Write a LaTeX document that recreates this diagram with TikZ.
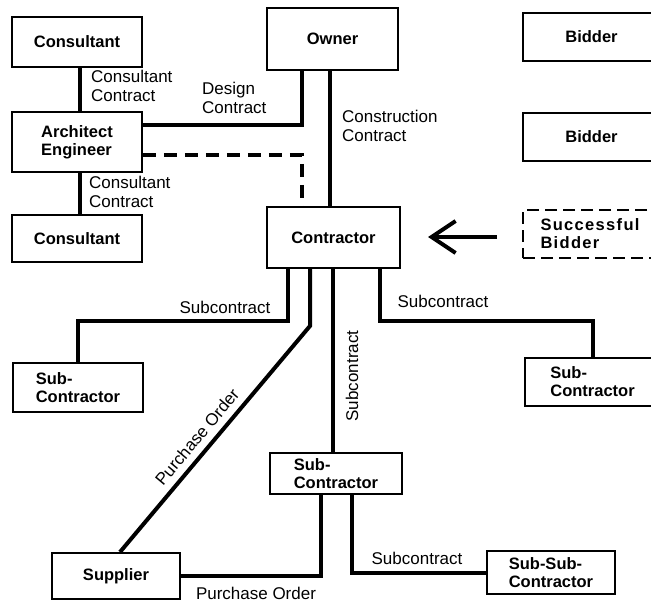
\documentclass[tikz,border=0pt]{standalone}
\usepackage{fontspec}
\setmainfont{Liberation Sans}
\usetikzlibrary{arrows.meta}
\begin{document}
\begin{tikzpicture}[x=1pt,y=-1pt,
  box/.style={draw, line width=1.9pt, rectangle, align=left, inner sep=0pt,
    font=\fontsize{16.5}{18}\selectfont\bfseries},
  dbox/.style={box, dash pattern=on 12pt off 6pt},
  link/.style={line width=4pt, line join=miter},
  dlink/.style={line width=3.5pt, line join=miter, dash pattern=on 13pt off 8pt},
  lbl/.style={font=\fontsize{17}{19}\selectfont, align=left, inner sep=0pt},
]
\useasboundingbox (0,0) rectangle (651,605);
\clip (0,0) rectangle (651,605);

% parties
\node[box, minimum width=130pt, minimum height=50pt] (cons1) at (77,42) {Consultant};
\node[box, minimum width=130pt, minimum height=60pt] (ae) at (77,142) {Architect\\Engineer};
\node[box, minimum width=130pt, minimum height=47pt] (cons2) at (77,238.5) {Consultant};
\node[box, minimum width=131pt, minimum height=62pt] (owner) at (332.5,39) {Owner};
\node[box, minimum width=133pt, minimum height=61pt] (contr) at (333.5,237.5) {Contractor};
\node[box, minimum width=137pt, minimum height=48pt] (bid1) at (591.5,37) {Bidder};
\node[box, minimum width=137pt, minimum height=48pt] (bid2) at (591.5,137) {Bidder};
\node[dbox, minimum width=137pt, minimum height=48pt, text width=102pt,
  font=\fontsize{16.5}{18}\selectfont\bfseries\addfontfeature{LetterSpace=8}]
  (succ) at (591.5,234) {Successful\\Bidder};
\node[box, minimum width=130pt, minimum height=49pt] (subL) at (78,387.5) {Sub-\\Contractor};
\node[box, minimum width=132pt, minimum height=41pt] (subM) at (336,473.5) {Sub-\\Contractor};
\node[box, minimum width=135pt, minimum height=48pt] (subR) at (592.5,382) {Sub-\\Contractor};
\node[box, minimum width=128pt, minimum height=46pt] (supp) at (116,576) {Supplier};
\node[box, minimum width=128pt, minimum height=43pt] (subsub) at (551,572.5) {Sub-Sub-\\Contractor};

% contracts around the owner and the design team
\draw[link] ([xshift=3pt]cons1.south) -- ([xshift=3pt]ae.north);
\draw[link] ([xshift=3pt]ae.south) -- ([xshift=3pt]cons2.north);
\draw[link] ([xshift=-30.5pt]owner.south) |- ([yshift=17pt]ae.east);
\coordinate (cc) at ([xshift=-2.5pt]owner.south);
\draw[link] (cc) -- (cc |- contr.north);
\draw[dlink] ([yshift=-13pt]ae.east) -| ([xshift=-31.5pt]contr.north);

% award to the successful bidder
\coordinate (awS) at (497,237);
\coordinate (awE) at (428,237);
\draw[line width=4pt, -{Straight Barb[length=24pt,width=32pt]}] (awS) -- (awE);

% contractor's subcontracts and orders
\draw[link] ([xshift=-45.5pt]contr.south) |- ([yshift=41pt]subL.north) -- (subL.north);
\draw[link] ([xshift=-23.5pt]contr.south) -- ++(0,57) -- ([xshift=4pt]supp.north);
\coordinate (cm) at ([xshift=-0.5pt]contr.south);
\draw[link] (cm) -- (cm |- subM.north);
\draw[link] ([xshift=46.5pt]contr.south) |- ([yshift=36pt]subR.north) -- (subR.north);
\draw[link] ([xshift=-15pt]subM.south) |- (supp.east);
\draw[link] ([xshift=16pt]subM.south) |- (subsub.west);

% labels
\node[lbl, anchor=west] (l1) at (91,86) {Consultant\\Contract};
\node[lbl, anchor=west] (l2) at (89,192) {Consultant\\Contract};
\node[lbl, anchor=west] (l3) at (202,98) {Design\\Contract};
\node[lbl, anchor=west] (l4) at (342,126) {Construction\\Contract};
\node[lbl] (l5) at (225,307) {Subcontract};
\node[lbl, rotate=50] (l6) at (197,437) {Purchase Order};
\node[lbl, rotate=90] (l7) at (352,376) {Subcontract};
\node[lbl] (l8) at (443,301) {Subcontract};
\node[lbl] (l9) at (417,558) {Subcontract};
\node[lbl] (l10) at (256,593) {Purchase Order};
\end{tikzpicture}
\end{document}
